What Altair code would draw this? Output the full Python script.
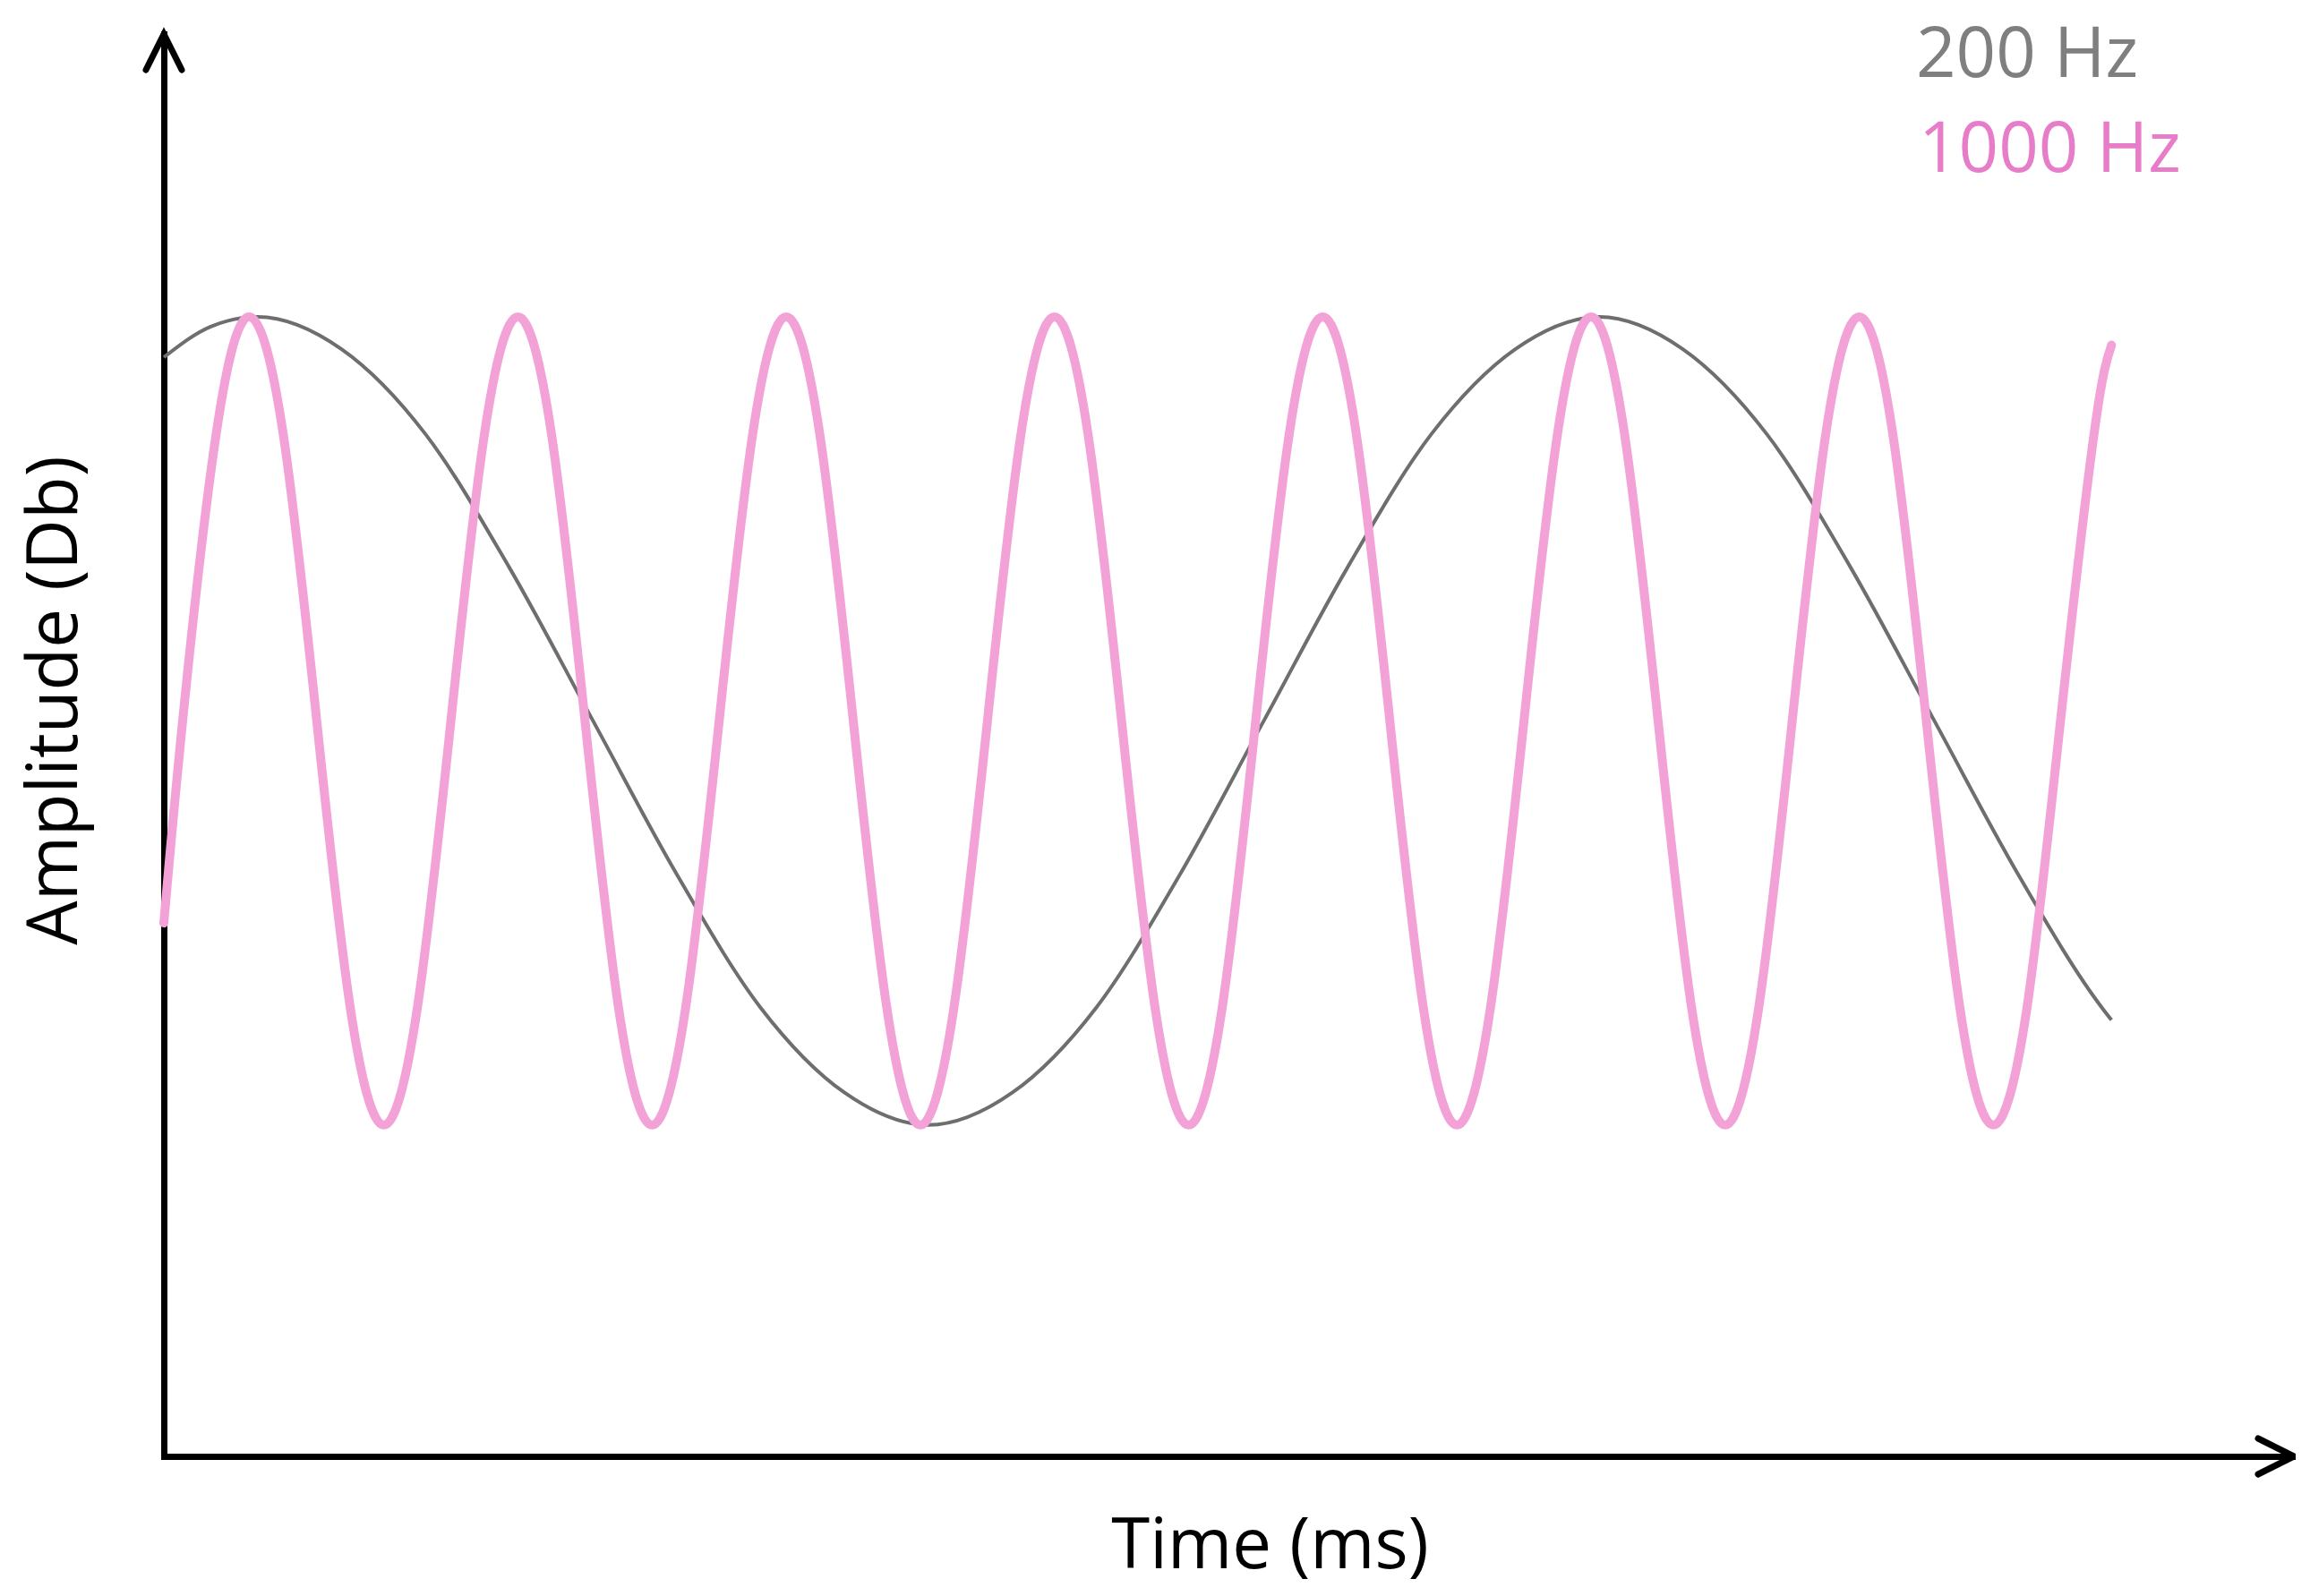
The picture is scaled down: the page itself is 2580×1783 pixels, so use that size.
import altair as alt
import pandas as pd

# ---- values (time in ms, amplitude in relative units) ----
X_DOMAIN = [0.0, 7.94]
Y_DOMAIN = [-1.82, 1.70]

SERIES = ["200 Hz", "1000 Hz"]

GRAY_T = [0.00, 0.175, 0.35, 0.6625, 0.975, 1.2875, 1.60, 1.9125, 2.225, 2.5375,
          2.85, 3.1625, 3.475, 3.7875, 4.10, 4.4125, 4.725, 5.0375, 5.35, 5.6625,
          5.975, 6.2875, 6.60, 6.9125, 7.225, 7.26]
GRAY_A = [0.90, 0.976, 1.00, 0.92, 0.71, 0.38, 0.00, -0.38, -0.71, -0.92,
          -1.00, -0.92, -0.71, -0.38, 0.00, 0.38, 0.71, 0.92, 1.00, 0.92,
          0.71, 0.38, 0.00, -0.38, -0.71, -0.74]

PINK_T = [0.00, 0.07,
          0.195, 0.32, 0.445, 0.57, 0.695, 0.82, 0.945, 1.07,
          1.195, 1.32, 1.445, 1.57, 1.695, 1.82, 1.945, 2.07,
          2.195, 2.32, 2.445, 2.57, 2.695, 2.82, 2.945, 3.07,
          3.195, 3.32, 3.445, 3.57, 3.695, 3.82, 3.945, 4.07,
          4.195, 4.32, 4.445, 4.57, 4.695, 4.82, 4.945, 5.07,
          5.195, 5.32, 5.445, 5.57, 5.695, 5.82, 5.945, 6.07,
          6.195, 6.32, 6.445, 6.57, 6.695, 6.82, 6.945, 7.07,
          7.195, 7.26]
PINK_A = [-0.50, 0.00,
          0.71, 1.00, 0.71, 0.00, -0.71, -1.00, -0.71, 0.00,
          0.71, 1.00, 0.71, 0.00, -0.71, -1.00, -0.71, 0.00,
          0.71, 1.00, 0.71, 0.00, -0.71, -1.00, -0.71, 0.00,
          0.71, 1.00, 0.71, 0.00, -0.71, -1.00, -0.71, 0.00,
          0.71, 1.00, 0.71, 0.00, -0.71, -1.00, -0.71, 0.00,
          0.71, 1.00, 0.71, 0.00, -0.71, -1.00, -0.71, 0.00,
          0.71, 1.00, 0.71, 0.00, -0.71, -1.00, -0.71, 0.00,
          0.71, 0.93]

# ---- styling ----
FONT = "Open Sans"
GRAY_LINE = "#6e6e6e"
PINK_LINE = "#f3a2d8"
GRAY_TEXT = "#7f7f7f"
PINK_TEXT = "#e77cc8"
AXIS_W = 7

W, H = 2379, 1589

gray_df = pd.DataFrame({"t": GRAY_T, "a": GRAY_A, "series": SERIES[0]})
pink_df = pd.DataFrame({"t": PINK_T, "a": PINK_A, "series": SERIES[1]})

xs = alt.Scale(domain=X_DOMAIN, nice=False, zero=False)
ys = alt.Scale(domain=Y_DOMAIN, nice=False, zero=False)

x_axis = alt.Axis(title="Time (ms)", domain=True, domainColor="black", domainWidth=AXIS_W,
                  domainCap="square", ticks=False, labels=False, grid=False,
                  titleFont=FONT, titleFontSize=78, titleFontWeight="normal", titleColor="black",
                  titleX=1235, titleY=124, titleBaseline="alphabetic")
y_axis = alt.Axis(title="Amplitude (Db)", domain=True, domainColor="black", domainWidth=AXIS_W,
                  domainCap="square", ticks=False, labels=False, grid=False,
                  titleFont=FONT, titleFontSize=78, titleFontWeight="normal", titleColor="black",
                  titleX=-98, titleY=744, titleBaseline="alphabetic", titleAngle=270)

gray_line = alt.Chart(gray_df).mark_line(interpolate="monotone", color=GRAY_LINE, strokeWidth=4).encode(
    x=alt.X("t:Q", scale=xs, axis=x_axis),
    y=alt.Y("a:Q", scale=ys, axis=y_axis),
)
pink_line = alt.Chart(pink_df).mark_line(interpolate="natural", color=PINK_LINE, strokeWidth=10,
                                         strokeCap="round").encode(
    x=alt.X("t:Q", scale=xs),
    y=alt.Y("a:Q", scale=ys),
)

right_arrow = alt.Chart(pd.DataFrame({"x": [X_DOMAIN[1]], "y": [Y_DOMAIN[0]]})).mark_point(
    shape="M-2,-1L0,0L-2,1", size=1600, filled=False, stroke="black", strokeWidth=AXIS_W,
    strokeCap="round", strokeJoin="miter", opacity=1,
).encode(x=alt.X("x:Q", scale=xs), y=alt.Y("y:Q", scale=ys))

up_arrow = alt.Chart(pd.DataFrame({"x": [X_DOMAIN[0]], "y": [Y_DOMAIN[1]]})).mark_point(
    shape="M-1,2L0,0L1,2", size=1600, filled=False, stroke="black", strokeWidth=AXIS_W,
    strokeCap="round", strokeJoin="miter", opacity=1,
).encode(x=alt.X("x:Q", scale=xs), y=alt.Y("y:Q", scale=ys))

label_200 = alt.Chart(pd.DataFrame({"label": [SERIES[0]]})).mark_text(
    font=FONT, fontSize=78, color=GRAY_TEXT, align="left", baseline="alphabetic",
).encode(text="label:N", x=alt.value(1957), y=alt.value(48))

label_1000 = alt.Chart(pd.DataFrame({"label": [SERIES[1]]})).mark_text(
    font=FONT, fontSize=78, color=PINK_TEXT, align="left", baseline="alphabetic",
).encode(text="label:N", x=alt.value(1960), y=alt.value(154))

chart = alt.layer(gray_line, pink_line, right_arrow, up_arrow, label_200, label_1000).properties(
    width=W, height=H,
    autosize=alt.AutoSizeParams(type="none"),
    padding={"left": 175, "top": 30, "right": 2, "bottom": 146},
    background="white",
).configure_view(stroke=None)

chart.save("out.html", embed_options={"renderer": "svg", "actions": False})
